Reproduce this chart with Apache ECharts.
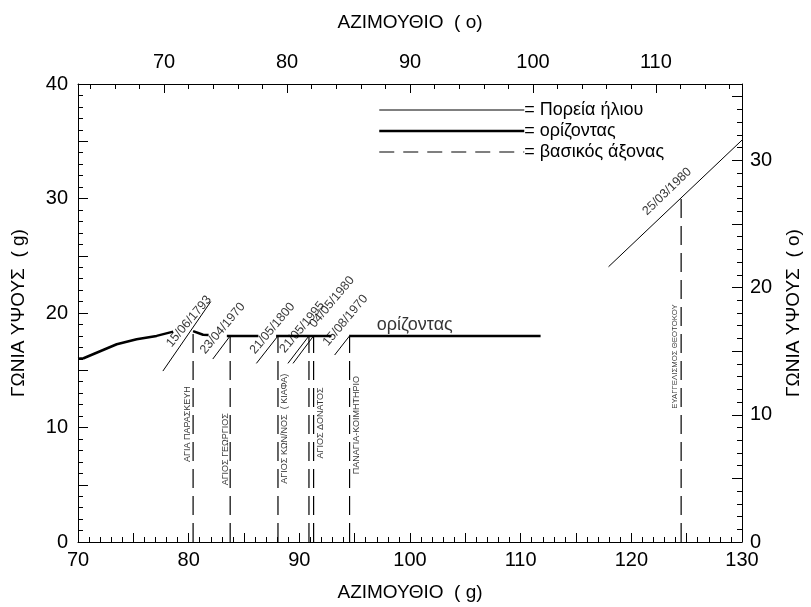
<!DOCTYPE html>
<html><head><meta charset="utf-8">
<script src="https://cdn.jsdelivr.net/npm/echarts@6/dist/echarts.min.js"></script>
<style>html,body{margin:0;padding:0;background:#fff}#c{width:811px;height:607px}</style>
</head><body><div id="c"></div>
<script>
// Horizon profile (grads); null marks a break in the drawn line
const horizonX = [70, 70.5, 72.0, 73.5, 75.3, 77.1, 78.6, null, 80.4, 81.3, 81.8, null, 83.45, 86.3, null, 87.9, 92.9, null, 94.5, 111.8];
const horizonY = [16.0, 16.05, 16.66, 17.27, 17.7, 18.0, 18.37, null, 18.42, 18.1, 18.08, null, 18, 18, null, 18, 18, null, 18, 18];

// Main axes of the churches (vertical dashed lines)
const axisAz  = [80.4, 83.75, 88.07, 90.87, 91.29, 94.54, 124.5];
const axisAlt = [18.4, 18, 18, 18, 18, 18, 30.1];

// Sun paths on the dates
const dates = ['15/06/1793', '23/04/1970', '21/05/1800', '21/05/1995', '04/05/1980', '15/08/1970', '25/03/1980'];
const sunX1 = [77.67, 82.18, 86.12, 88.97, 89.43, 93.19, 117.94];
const sunY1 = [14.93, 15.98, 15.6, 15.6, 15.6, 16.33, 24.04];
const sunX2 = [82.0, 83.75, 88.07, 90.87, 91.29, 94.54, 130];
const sunY2 = [21.0, 18.0, 18.0, 18.0, 18.0, 18.0, 35.1];
const dateLabelX = [78.65, 81.7, 86.2, 88.9, 91.58, 92.8, 121.6];
const dateLabelY = [16.8, 16.2, 16.2, 16.3, 18.5, 16.9, 28.3];

// Church names
const churches = ['ΑΓΙΑ ΠΑΡΑΣΚΕΥΗ', 'ΑΓΙΟΣ ΓΕΩΡΓΙΟΣ', 'ΑΓΙΟΣ ΚΩΝ/ΝΟΣ  ( ΚΙΑΦΑ)', 'ΑΓΙΟΣ ΔΟΝΑΤΟΣ', 'ΠΑΝΑΓΙΑ-ΚΟΙΜΗΤΗΡΙΟ', 'ΕΥΑΓΓΕΛΙΣΜΟΣ ΘΕΟΤΟΚΟΥ'];
const churchX = [79.9, 83.3, 88.65, 91.87, 95.17, 123.9];
const churchY = [10.3, 8.1, 9.9, 10.4, 10.2, 16.2];

// Axis ticks
const topMajor = [70, 80, 90, 100, 110];
const topMinor = [64, 66, 68, 72, 74, 76, 78, 82, 84, 86, 88, 92, 94, 96, 98, 102, 104, 106, 108, 112, 114, 116];
const rightLabels = [0, 10, 20, 30];
const rightMajor = [0, 5, 10, 15, 20, 25, 30, 35];
const rightMinor = [1,2,3,4,6,7,8,9,11,12,13,14,16,17,18,19,21,22,23,24,26,27,28,29,31,32,33,34,36];

const NAME_SUN = 'Πορεία ήλιου', NAME_HOR = 'ορίζοντας', NAME_AXIS = 'βασικός άξονας';
const FONT = '"Liberation Sans", Arial, sans-serif';
const black = '#000';

const series = [];
// dashed main axes
axisAz.forEach((x, i) => {
  series.push({type: 'line', name: NAME_AXIS, data: [[x, 0], [x, axisAlt[i]]], symbol: 'none', silent: true,
    itemStyle: {color: black}, lineStyle: {color: black, width: 1.2, type: [19, 8]}, z: 2});
});
// sun paths
dates.forEach((d, i) => {
  series.push({type: 'line', name: NAME_SUN, data: [[sunX1[i], sunY1[i]], [sunX2[i], sunY2[i]]], symbol: 'none', silent: true,
    itemStyle: {color: black}, lineStyle: {color: black, width: 1}, z: 3});
});
// horizon segments
let seg = [];
const segs = [];
horizonX.forEach((x, i) => {
  if (x === null) { if (seg.length) segs.push(seg); seg = []; }
  else seg.push([x, horizonY[i]]);
});
if (seg.length) segs.push(seg);
segs.forEach(s => {
  series.push({type: 'line', name: NAME_HOR, data: s, symbol: 'none', silent: true,
    itemStyle: {color: black}, lineStyle: {color: black, width: 2.5}, z: 4});
});
// date labels
series.push({type: 'scatter', silent: true, symbolSize: 1, itemStyle: {color: 'rgba(0,0,0,0)'}, z: 5,
  data: dates.map((d, i) => ({name: d, value: [dateLabelX[i], dateLabelY[i]], label: {rotate: i === 6 ? 44 : 50}})),
  label: {show: true, formatter: p => p.name, position: 'inside', align: 'left', verticalAlign: 'bottom',
    fontSize: 12.5, fontFamily: FONT, color: black}});
// church labels
series.push({type: 'scatter', silent: true, symbolSize: 1, itemStyle: {color: 'rgba(0,0,0,0)'}, z: 5,
  data: churches.map((c, i) => ({name: c, value: [churchX[i], churchY[i]], label: {fontSize: i === 5 ? 7.8 : 9}})),
  label: {show: true, formatter: p => p.name, position: 'inside', align: 'center', verticalAlign: 'middle', rotate: 90,
    fontSize: 9, fontFamily: FONT, color: black}});
// horizon word
series.push({type: 'scatter', silent: true, symbolSize: 1, itemStyle: {color: 'rgba(0,0,0,0)'}, z: 5,
  data: [{name: NAME_HOR, value: [97.0, 18.2]}],
  label: {show: true, formatter: p => p.name, position: 'inside', align: 'left', verticalAlign: 'bottom',
    fontSize: 18, fontFamily: FONT, color: black}});

const axLine = {show: true, onZero: false, lineStyle: {color: black, width: 1}};
const tickStyle = {color: black, width: 1};
const lab = {fontSize: 20, fontFamily: FONT, color: black};
const nameStyle = {fontSize: 19, fontFamily: FONT, color: black};
const noSym = {color: 'rgba(0,0,0,0)', opacity: 0, borderWidth: 0};

const option = {
  animation: false,
  backgroundColor: '#fff',
  textStyle: {fontFamily: FONT, color: black},
  grid: {left: 78, right: 68, top: 84, bottom: 65},
  legend: {
    data: [
      {name: NAME_SUN, itemStyle: noSym, lineStyle: {color: black, width: 1, type: 'solid'}},
      {name: NAME_HOR, itemStyle: noSym, lineStyle: {color: black, width: 2.5, type: 'solid'}},
      {name: NAME_AXIS, itemStyle: noSym, lineStyle: {color: black, width: 1.2, type: [15, 9]}}
    ],
    orient: 'vertical', left: 378, top: 101, padding: 0,
    itemWidth: 145, itemHeight: 19, itemGap: 3, selectedMode: false,
    itemStyle: noSym,
    formatter: n => '= ' + n, textStyle: {fontSize: 18, fontFamily: FONT, color: black, padding: [0, 0, 0, -5]}
  },
  xAxis: [
    {type: 'value', position: 'bottom', min: 70, max: 130, interval: 5,
      name: 'ΑΖΙΜΟΥΘΙΟ  ( g)', nameLocation: 'middle', nameGap: 41, nameTextStyle: nameStyle,
      axisLine: axLine, axisTick: {inside: true, length: 9, lineStyle: tickStyle},
      minorTick: {show: true, splitNumber: 5, length: 5, lineStyle: tickStyle},
      axisLabel: Object.assign({margin: 8, formatter: v => (v % 10 === 0 ? String(v) : '')}, lab),
      splitLine: {show: false}},
    {type: 'value', position: 'top', min: 63, max: 117,
      name: 'ΑΖΙΜΟΥΘΙΟ  ( o)', nameLocation: 'middle', nameGap: 52, nameTextStyle: nameStyle,
      axisLine: axLine, axisTick: {inside: true, length: 9, lineStyle: tickStyle, customValues: topMajor},
      axisLabel: Object.assign({margin: 12, customValues: topMajor}, lab),
      splitLine: {show: false}},
    {type: 'value', position: 'top', min: 63, max: 117,
      axisLine: {show: false, onZero: false}, axisTick: {inside: true, length: 5, lineStyle: tickStyle, customValues: topMinor},
      axisLabel: {show: false}, splitLine: {show: false}}
  ],
  yAxis: [
    {type: 'value', position: 'left', min: 0, max: 40, interval: 5,
      name: 'ΓΩΝΙΑ ΥΨΟΥΣ  ( g)', nameLocation: 'middle', nameGap: 50, nameTextStyle: nameStyle,
      axisLine: axLine, axisTick: {inside: true, length: 10, lineStyle: tickStyle},
      minorTick: {show: true, splitNumber: 5, length: 5, lineStyle: tickStyle},
      axisLabel: Object.assign({margin: 10, formatter: v => (v % 10 === 0 ? String(v) : '')}, lab),
      splitLine: {show: false}},
    {type: 'value', position: 'right', min: 0, max: 36,
      name: 'ΓΩΝΙΑ ΥΨΟΥΣ  ( o)', nameLocation: 'middle', nameGap: 42, nameTextStyle: nameStyle,
      axisLine: axLine, axisTick: {inside: true, length: 10, lineStyle: tickStyle, customValues: rightMajor},
      axisLabel: Object.assign({margin: 8, customValues: rightLabels}, lab),
      splitLine: {show: false}},
    {type: 'value', position: 'right', min: 0, max: 36,
      axisLine: {show: false, onZero: false}, axisTick: {inside: true, length: 5, lineStyle: tickStyle, customValues: rightMinor},
      axisLabel: {show: false}, splitLine: {show: false}}
  ],
  series: series
};
const chart = echarts.init(document.getElementById('c'), null, {renderer: 'canvas'});
chart.setOption(option);
</script>
</body></html>
